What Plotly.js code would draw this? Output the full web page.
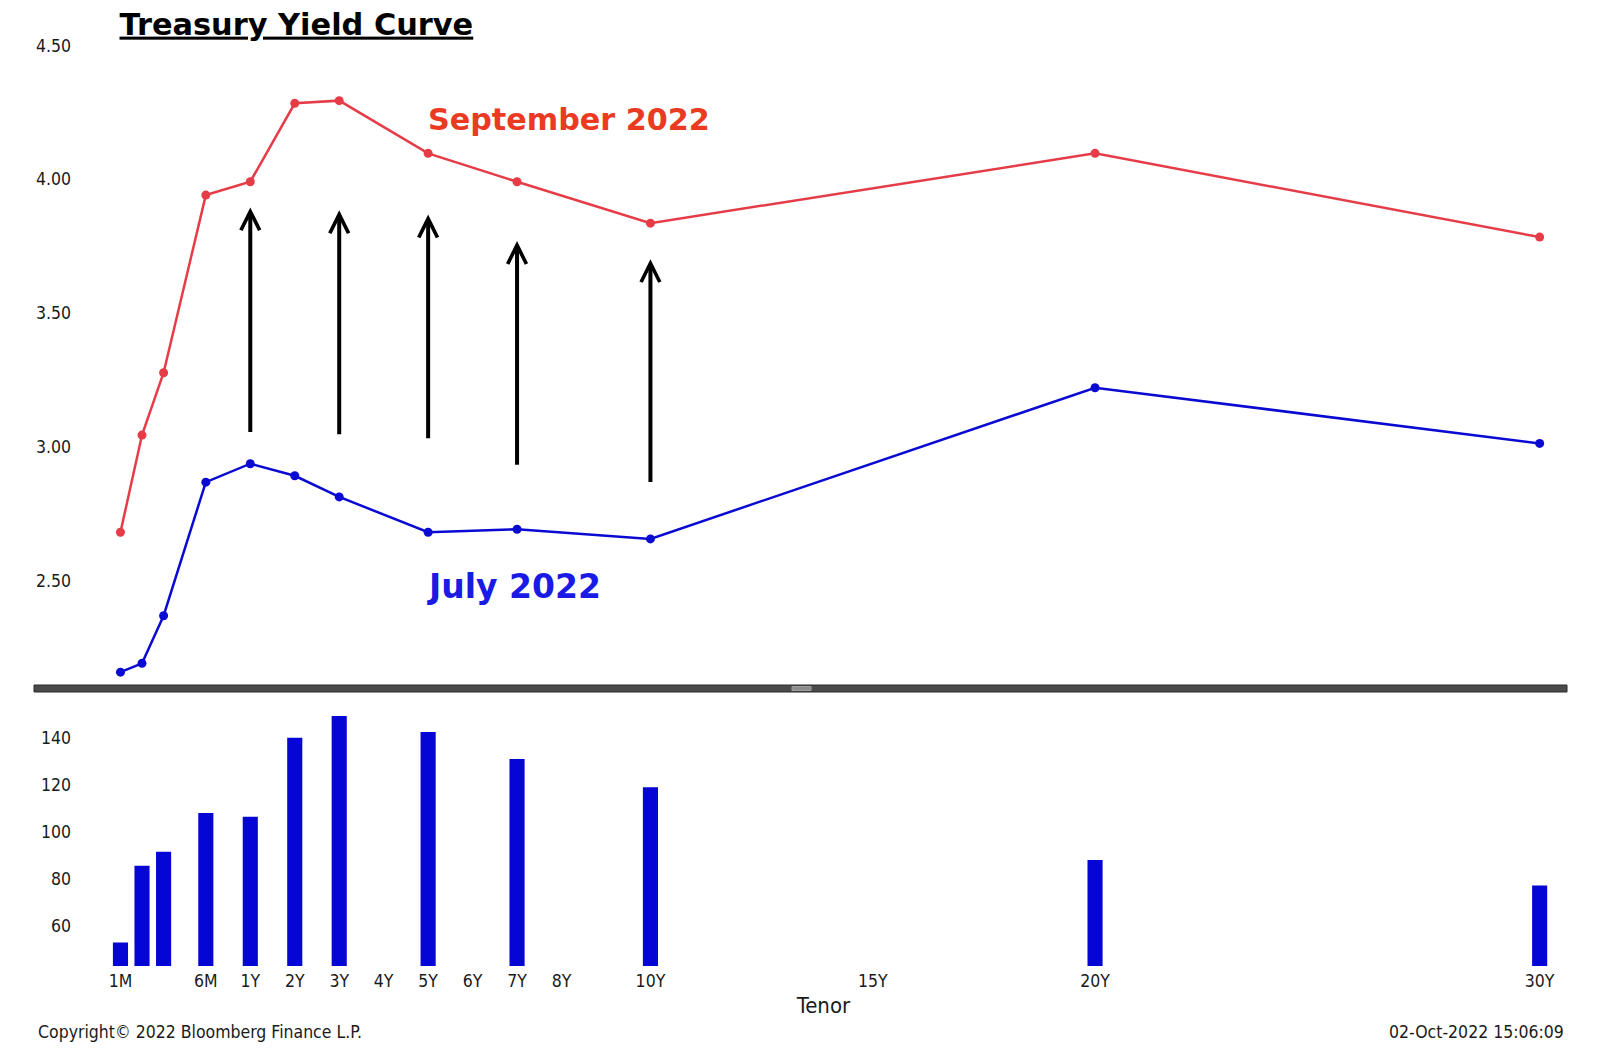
<!DOCTYPE html>
<html>
<head>
<meta charset="utf-8">
<script src="https://cdn.plot.ly/plotly-3.0.1.min.js"></script>
<style>html,body{margin:0;padding:0;background:#fff;}#chart{width:1600px;height:1056px;}</style>
</head>
<body>
<div id="chart"></div>
<script>
// ---- data ----
const tenors = ['1M','2M','3M','6M','1Y','2Y','3Y','5Y','7Y','10Y','20Y','30Y'];
const sep2022 = [2.681, 3.044, 3.277, 3.941, 3.991, 4.284, 4.294, 4.097, 3.991, 3.836, 4.097, 3.784];
const jul2022 = [2.158, 2.191, 2.369, 2.868, 2.937, 2.892, 2.813, 2.681, 2.692, 2.656, 3.221, 3.013];
const changeBp = [53.0, 85.6, 91.5, 108.0, 106.4, 140.0, 149.2, 142.4, 131.0, 118.9, 88.0, 77.2];
const tickLabels = ['1M','6M','1Y','2Y','3Y','4Y','5Y','6Y','7Y','8Y','10Y','15Y','20Y','30Y'];
const topTicks = [2.5, 3.0, 3.5, 4.0, 4.5];
const bottomTicks = [60, 80, 100, 120, 140];
// hand-drawn arrows: tenor, tail yield, head yield
const arrowTenors = ['1Y','3Y','5Y','7Y','10Y'];
const arrowTail = [3.050, 3.042, 3.027, 2.928, 2.863];
const arrowHead = [3.895, 3.884, 3.868, 3.769, 3.701];

// Bloomberg tenor scale: months compressed below 1Y, linear in years above
const monthPos = {1: -1.92, 2: -1.435, 3: -0.95, 4: -0.475, 6: 0};
function tenorPos(t) {
  const n = parseFloat(t);
  return t.endsWith('M') ? monthPos[n] : n;
}
const xs = tenors.map(tenorPos);

// ---- layout helpers (pixel -> paper) ----
const W = 1600, H = 1056;
const L = 80, R = 33, T = 30, B = 90;
const PW = W - L - R, PH = H - T - B;
const px = x => (x - L) / PW;
const py = y => (H - B - y) / PH;

const tickFont = {family: 'DejaVu Sans Condensed, DejaVu Sans, Liberation Sans, sans-serif', size: 17.5, color: '#1a1a1a'};
const boldFont = 'DejaVu Sans, Verdana, sans-serif';

const traces = [
  {x: xs, y: sep2022, xaxis: 'x', yaxis: 'y', type: 'scatter', mode: 'lines+markers',
   line: {color: '#e63c48', width: 2.5}, marker: {color: '#e63c48', size: 9}, name: 'September 2022'},
  {x: xs, y: jul2022, xaxis: 'x', yaxis: 'y', type: 'scatter', mode: 'lines+markers',
   line: {color: '#0a0ad2', width: 2.5}, marker: {color: '#0a0ad2', size: 9}, name: 'July 2022'},
  {x: xs, y: changeBp, xaxis: 'x', yaxis: 'y2', type: 'bar', width: 0.34,
   marker: {color: '#0505d5', line: {width: 0}}, name: 'Change'}
];

const annotations = [];
arrowTenors.forEach((t, i) => {
  const p = tenorPos(t);
  annotations.push({x: p, y: arrowHead[i], ax: p, ay: arrowTail[i], xref: 'x', yref: 'y', axref: 'x', ayref: 'y',
    text: '', showarrow: true, arrowhead: 5, arrowsize: 0.92, arrowwidth: 4, arrowcolor: '#000'});
});
annotations.push({x: 4.95, y: 4.222, xref: 'x', yref: 'y', xanchor: 'left', yanchor: 'middle', showarrow: false,
  text: '<b>September 2022</b>', font: {family: boldFont, size: 30.2, color: '#ea3b22'}});
annotations.push({x: 4.93, y: 2.478, xref: 'x', yref: 'y', xanchor: 'left', yanchor: 'middle', showarrow: false,
  text: '<b>July 2022</b>', font: {family: boldFont, size: 33, color: '#1a1ae6'}});
annotations.push({x: px(36), y: py(1032), xref: 'paper', yref: 'paper', xanchor: 'left', yanchor: 'middle', showarrow: false,
  text: 'Copyright\u00a9 2022 Bloomberg Finance L.P.', font: {family: tickFont.family, size: 17.5, color: '#1a1a1a'}});
annotations.push({x: px(1566), y: py(1032), xref: 'paper', yref: 'paper', xanchor: 'right', yanchor: 'middle', showarrow: false,
  text: '02-Oct-2022 15:06:09', font: {family: tickFont.family, size: 17.5, color: '#1a1a1a'}});

const shapes = [
  {type: 'rect', xref: 'paper', yref: 'paper', x0: px(34), x1: px(1567), y0: py(685), y1: py(692),
   fillcolor: '#4a4a4a', line: {color: '#2a2a2a', width: 1}, layer: 'above'},
  {type: 'rect', xref: 'paper', yref: 'paper', x0: px(792), x1: px(811), y0: py(686.5), y1: py(690.5),
   fillcolor: '#8c8c8c', line: {color: '#a0a0a0', width: 1}, layer: 'above'}
];

const layout = {
  width: W, height: H,
  margin: {l: L, r: R, t: T, b: B},
  paper_bgcolor: '#ffffff', plot_bgcolor: '#ffffff',
  showlegend: false,
  title: {text: '<b><u>Treasury Yield Curve</u></b>', font: {family: boldFont, size: 30.4, color: '#000'},
    xref: 'paper', x: px(119.5), xanchor: 'left', yref: 'container', y: 1 - 24 / H, yanchor: 'middle'},
  xaxis: {range: [-2.83, 30.615], anchor: 'y2', tickvals: tickLabels.map(tenorPos), ticktext: tickLabels,
    showgrid: false, zeroline: false, showline: false, ticks: '', tickfont: tickFont, ticklabelstandoff: 2,
    title: {text: 'Tenor', font: {family: tickFont.family, size: 22, color: '#1a1a1a'}, standoff: 8}},
  yaxis: {domain: [py(685), 1], range: [2.110, 4.558], tickvals: topTicks, tickformat: '.2f',
    showgrid: false, zeroline: false, showline: false, ticks: '', tickfont: tickFont, ticklabelstandoff: 8},
  yaxis2: {domain: [0, py(697)], range: [43, 157.3], tickvals: bottomTicks,
    showgrid: false, zeroline: false, showline: false, ticks: '', tickfont: tickFont, ticklabelstandoff: 8},
  annotations: annotations,
  shapes: shapes
};

Plotly.newPlot('chart', traces, layout, {staticPlot: true, displayModeBar: false});
</script>
</body>
</html>
